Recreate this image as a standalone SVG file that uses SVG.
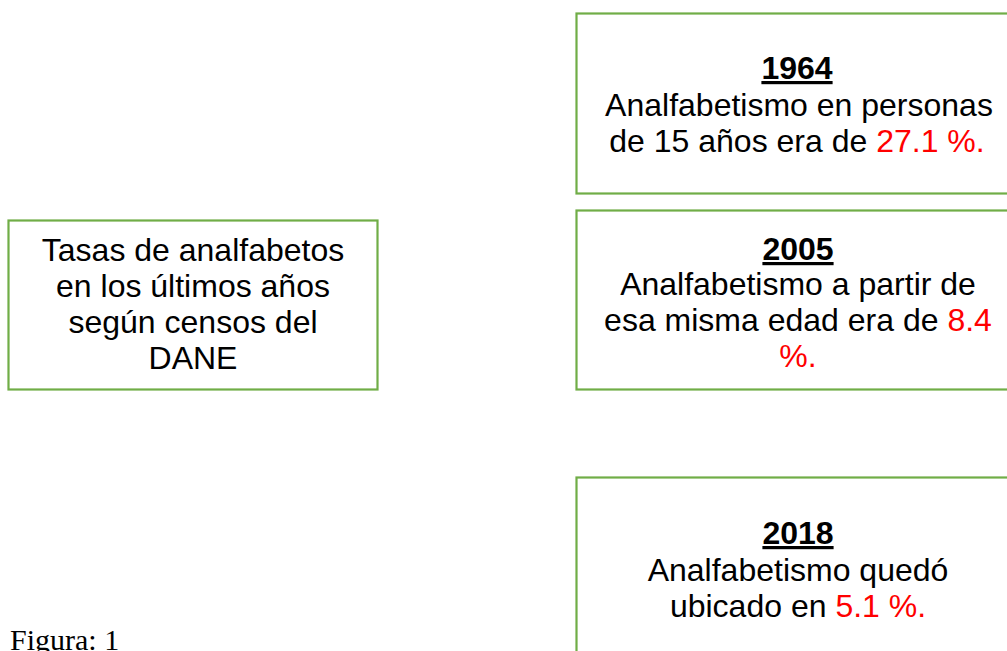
<svg xmlns="http://www.w3.org/2000/svg" width="1007" height="651" viewBox="0 0 1007 651">
<style>
.box{fill:#fff;stroke:#70AD47;stroke-width:2.2}
.t{font-family:"Liberation Sans",Arial,sans-serif;font-size:32px;fill:#000;text-anchor:middle}
.h{font-weight:bold;text-decoration:underline}
.r{fill:#FF0000}
.cap{font-family:"Liberation Serif","Times New Roman",serif;font-size:30px;fill:#000}
</style>
<rect width="1007" height="651" fill="#fff"/>
<g id="connectors"></g>
<g id="node-main">
<rect class="box" x="8.5" y="220.5" width="369" height="169"/>
<text class="t" x="193"><tspan x="193" y="261">Tasas de analfabetos</tspan><tspan x="193" y="297">en los últimos años</tspan><tspan x="193" y="333">según censos del</tspan><tspan x="193" y="369">DANE</tspan></text>
</g>
<g id="node-1964">
<rect class="box" x="576.5" y="13.5" width="444" height="180"/>
<text class="t h" x="797" y="79">1964</text>
<text class="t"><tspan x="799" y="116">Analfabetismo en personas</tspan><tspan x="797" y="152">de 15 años era de <tspan class="r">27.1 %.</tspan></tspan></text>
</g>
<g id="node-2005">
<rect class="box" x="576.5" y="210.5" width="444" height="179"/>
<text class="t h" x="798" y="260">2005</text>
<text class="t"><tspan x="798" y="295">Analfabetismo a partir de</tspan><tspan x="798" y="331">esa misma edad era de <tspan class="r">8.4</tspan></tspan><tspan class="r" x="798" y="367">%.</tspan></text>
</g>
<g id="node-2018">
<rect class="box" x="576.5" y="477.5" width="444" height="190"/>
<text class="t h" x="798" y="544">2018</text>
<text class="t"><tspan x="798" y="581">Analfabetismo quedó</tspan><tspan x="798" y="617">ubicado en <tspan class="r">5.1 %.</tspan></tspan></text>
</g>
<text class="cap" x="10" y="650">Figura: 1</text>
</svg>
